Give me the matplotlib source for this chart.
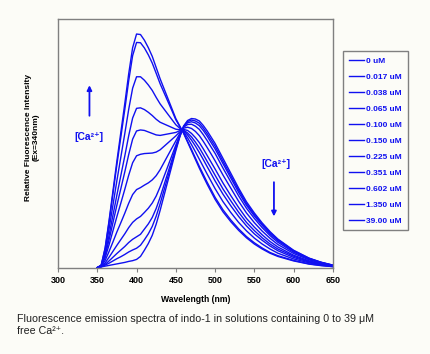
import matplotlib.pyplot as plt

plt.rcParams['font.family'] = ['Liberation Sans', 'DejaVu Sans']

output_path = "out.png"

wavelengths = [350, 355, 360, 365, 370, 375, 380, 385, 390, 395, 400, 405, 410, 415,
               420, 425, 430, 435, 440, 445, 450, 455, 460, 465, 470, 475, 480, 485,
               490, 495, 500, 510, 520, 530, 540, 550, 560, 570, 580, 600, 620, 635, 650]

concentrations = ["0 uM", "0.017 uM", "0.038 uM", "0.065 uM", "0.100 uM", "0.150 uM",
                  "0.225 uM", "0.351 uM", "0.602 uM", "1.350 uM", "39.00 uM"]

# relative intensity, one list per [Ca2+]
ca_0000 = [0.0, 0.003, 0.006, 0.009, 0.012, 0.015, 0.018, 0.021, 0.025, 0.028, 0.033, 0.045, 0.07, 0.097,
           0.13, 0.175, 0.23, 0.29, 0.35, 0.41, 0.47, 0.525, 0.57, 0.592, 0.60, 0.598, 0.59, 0.572,
           0.55, 0.525, 0.50, 0.44, 0.38, 0.32, 0.265, 0.22, 0.18, 0.145, 0.115, 0.07, 0.038, 0.022, 0.01]
ca_0017 = [0.0, 0.003, 0.010, 0.018, 0.027, 0.036, 0.044, 0.053, 0.063, 0.071, 0.078, 0.090, 0.112, 0.136,
           0.166, 0.207, 0.257, 0.312, 0.367, 0.422, 0.477, 0.527, 0.569, 0.588, 0.594, 0.590, 0.581, 0.562,
           0.539, 0.514, 0.489, 0.429, 0.370, 0.312, 0.258, 0.214, 0.175, 0.141, 0.112, 0.068, 0.037, 0.021, 0.010]
ca_0038 = [0.0, 0.004, 0.013, 0.027, 0.042, 0.057, 0.071, 0.085, 0.101, 0.114, 0.124, 0.134, 0.155, 0.176,
           0.202, 0.238, 0.283, 0.333, 0.383, 0.433, 0.483, 0.530, 0.567, 0.583, 0.587, 0.582, 0.571, 0.552,
           0.529, 0.503, 0.478, 0.419, 0.361, 0.303, 0.251, 0.208, 0.170, 0.136, 0.108, 0.066, 0.036, 0.021, 0.009]
ca_0065 = [0.0, 0.004, 0.019, 0.042, 0.066, 0.090, 0.113, 0.136, 0.161, 0.182, 0.196, 0.206, 0.222, 0.239,
           0.260, 0.288, 0.325, 0.367, 0.409, 0.451, 0.493, 0.533, 0.565, 0.576, 0.577, 0.569, 0.556, 0.535,
           0.511, 0.485, 0.460, 0.401, 0.345, 0.289, 0.239, 0.198, 0.161, 0.129, 0.102, 0.062, 0.034, 0.019, 0.009]
ca_0100 = [0.0, 0.005, 0.029, 0.065, 0.104, 0.144, 0.181, 0.219, 0.259, 0.294, 0.314, 0.322, 0.332, 0.341,
           0.353, 0.370, 0.394, 0.423, 0.452, 0.481, 0.510, 0.539, 0.561, 0.565, 0.560, 0.548, 0.531, 0.508,
           0.483, 0.457, 0.430, 0.373, 0.320, 0.267, 0.220, 0.181, 0.147, 0.118, 0.093, 0.057, 0.031, 0.018, 0.008]
ca_0150 = [0.0, 0.006, 0.040, 0.092, 0.149, 0.206, 0.260, 0.315, 0.372, 0.422, 0.450, 0.456, 0.459, 0.460,
           0.461, 0.465, 0.474, 0.488, 0.502, 0.516, 0.530, 0.546, 0.556, 0.552, 0.540, 0.523, 0.503, 0.478,
           0.451, 0.424, 0.397, 0.341, 0.290, 0.242, 0.198, 0.163, 0.132, 0.105, 0.083, 0.050, 0.027, 0.016, 0.007]
ca_0225 = [0.0, 0.007, 0.048, 0.112, 0.182, 0.252, 0.318, 0.385, 0.455, 0.517, 0.550, 0.554, 0.552, 0.546,
           0.540, 0.534, 0.532, 0.535, 0.538, 0.541, 0.544, 0.551, 0.553, 0.542, 0.526, 0.505, 0.482, 0.455,
           0.427, 0.400, 0.372, 0.317, 0.269, 0.223, 0.182, 0.149, 0.120, 0.095, 0.075, 0.046, 0.024, 0.014, 0.007]
ca_0351 = [0.0, 0.008, 0.056, 0.130, 0.212, 0.293, 0.371, 0.449, 0.531, 0.602, 0.641, 0.643, 0.636, 0.625,
           0.612, 0.597, 0.585, 0.578, 0.571, 0.564, 0.557, 0.555, 0.550, 0.534, 0.513, 0.489, 0.463, 0.435,
           0.406, 0.378, 0.349, 0.296, 0.249, 0.206, 0.168, 0.136, 0.110, 0.087, 0.068, 0.041, 0.022, 0.013, 0.006]
ca_0602 = [0.0, 0.009, 0.066, 0.156, 0.253, 0.351, 0.445, 0.539, 0.637, 0.722, 0.768, 0.768, 0.754, 0.735,
           0.713, 0.685, 0.659, 0.638, 0.617, 0.596, 0.575, 0.561, 0.546, 0.522, 0.495, 0.466, 0.436, 0.406,
           0.376, 0.347, 0.318, 0.266, 0.222, 0.182, 0.148, 0.119, 0.095, 0.075, 0.058, 0.035, 0.019, 0.011, 0.005]
ca_1350 = [0.0, 0.010, 0.077, 0.183, 0.299, 0.415, 0.526, 0.636, 0.752, 0.853, 0.906, 0.905, 0.884, 0.856,
           0.823, 0.782, 0.740, 0.704, 0.668, 0.632, 0.595, 0.568, 0.541, 0.508, 0.475, 0.441, 0.407, 0.375,
           0.343, 0.313, 0.283, 0.233, 0.192, 0.156, 0.125, 0.100, 0.079, 0.061, 0.048, 0.029, 0.015, 0.009, 0.004]
ca_39000 = [0.0, 0.01, 0.08, 0.19, 0.31, 0.43, 0.545, 0.66, 0.78, 0.885, 0.94, 0.938, 0.915, 0.885,
            0.85, 0.805, 0.76, 0.72, 0.68, 0.64, 0.60, 0.57, 0.54, 0.505, 0.47, 0.435, 0.40, 0.367,
            0.335, 0.305, 0.275, 0.225, 0.185, 0.15, 0.12, 0.095, 0.075, 0.058, 0.045, 0.027, 0.014, 0.008, 0.004]

spectra = [ca_0000, ca_0017, ca_0038, ca_0065, ca_0100, ca_0150,
           ca_0225, ca_0351, ca_0602, ca_1350, ca_39000]

blue = "#1010f0"
grey = "#808080"
bg = "#fcfcf7"

fig = plt.figure(figsize=(4.30, 3.54), dpi=100, facecolor=bg)
ax = fig.add_axes([0.135, 0.244, 0.639, 0.702])
ax.set_facecolor(bg)

for label, values in zip(concentrations, spectra):
    ax.plot(wavelengths, values, color=blue, linewidth=1.0, label=label,
            solid_joinstyle="round")

ax.set_xlim(300, 650)
ax.set_ylim(0, 1)
ax.set_xticks(range(300, 651, 50))
ax.set_yticks([])
ax.tick_params(axis="x", direction="out", length=3, width=0.8, color=grey,
               labelsize=6.5, pad=3)
for lbl in ax.get_xticklabels():
    lbl.set_fontweight("bold")
for spine in ax.spines.values():
    spine.set_color(grey)
    spine.set_linewidth(1.0)

ax.set_xlabel("Wavelength (nm)", fontsize=6.2, fontweight="bold", labelpad=7)
fig.text(0.075, 0.612, "Relative Fluorescence Intensity\n(Ex=340nm)", rotation=90,
         ha="center", va="center", fontsize=6.0, fontweight="bold",
         multialignment="center", linespacing=1.1)

# [Ca2+] arrows
ax.annotate("", xy=(340, 0.745), xytext=(340, 0.60),
            arrowprops=dict(arrowstyle="-|>", color=blue, lw=1.3, mutation_scale=7))
ax.text(339, 0.525, "[Ca²⁺]", color=blue, fontsize=7.5, fontweight="bold",
        ha="center", va="center")
ax.text(577, 0.418, "[Ca²⁺]", color=blue, fontsize=7.5, fontweight="bold",
        ha="center", va="center")
ax.annotate("", xy=(575, 0.195), xytext=(575, 0.355),
            arrowprops=dict(arrowstyle="-|>", color=blue, lw=1.3, mutation_scale=7))

leg = ax.legend(loc="upper left", bbox_to_anchor=(0.798, 0.856),
                bbox_transform=fig.transFigure, borderaxespad=0,
                fontsize=6.0, labelcolor=blue, handlelength=1.8, handletextpad=0.3,
                labelspacing=0.98, borderpad=0.7, fancybox=False, framealpha=1,
                edgecolor=grey, facecolor=bg)
leg.get_frame().set_linewidth(1.0)
for text in leg.get_texts():
    text.set_fontweight("bold")

fig.text(0.04, 0.082, "Fluorescence emission spectra of indo-1 in solutions containing 0 to 39 μM\nfree Ca²⁺.",
         fontsize=7.7, ha="left", va="center", color="#202020", linespacing=1.25)

plt.savefig(output_path, dpi=100, facecolor=bg)
plt.close()
